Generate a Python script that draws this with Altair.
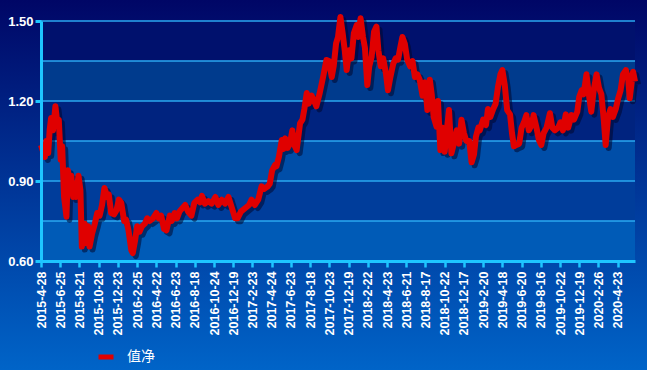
import altair as alt
import pandas as pd

tick_labels = [
    "2015-4-28", "2015-6-25", "2015-8-21", "2015-10-28", "2015-12-23",
    "2016-2-25", "2016-4-22", "2016-6-23", "2016-8-18", "2016-10-24",
    "2016-12-19", "2017-2-23", "2017-4-24", "2017-6-23", "2017-8-18",
    "2017-10-23", "2017-12-19", "2018-2-22", "2018-4-23", "2018-6-21",
    "2018-8-17", "2018-10-22", "2018-12-17", "2019-2-20", "2019-4-18",
    "2019-6-20", "2019-8-16", "2019-10-22", "2019-12-19", "2020-2-26",
    "2020-4-23",
]

# trading-day index (0 = 2015-4-28) and net value
day_index = [
    0, 8, 11, 15, 18, 21, 25, 30, 34, 37, 41, 44, 48, 53, 56, 60, 63, 67, 70, 73,
    78, 82, 85, 91, 94, 98, 101, 106, 112, 117, 122, 127, 132, 138, 141, 146, 152, 157, 162, 167,
    173, 177, 182, 188, 191, 196, 200, 205, 210, 216, 221, 226, 233, 240, 245, 250, 256, 261, 268, 272,
    278, 283, 288, 295, 300, 306, 313, 319, 326, 331, 335, 341, 348, 355, 363, 369, 376, 383, 390, 397,
    404, 409, 416, 424, 433, 438, 445, 452, 459, 464, 472, 476, 481, 487, 490, 495, 501, 504, 508, 513,
    518, 523, 527, 532, 539, 544, 548, 553, 557, 563, 566, 573, 580, 587, 594, 599, 605, 609, 614, 618,
    623, 628, 632, 636, 641, 646, 651, 657, 660, 665, 670, 674, 679, 683, 688, 693, 698, 702, 707, 712,
    718, 722, 727, 733, 738, 743, 748, 752, 757, 762, 768, 773, 778, 783, 788, 794, 799, 804, 809, 813,
    817, 823, 826, 831, 836, 840, 845, 849, 854, 859, 865, 870, 875, 880, 885, 891, 896, 901, 905, 910,
    913, 920, 926, 930, 935, 941, 946, 951, 956, 960, 965, 970, 976, 980, 984, 989, 995, 1000, 1005, 1010,
    1015, 1021, 1025, 1031, 1036, 1041, 1046, 1052, 1059, 1064, 1069, 1076, 1081, 1086, 1092, 1097, 1104, 1109, 1116, 1120,
    1125, 1129, 1135, 1140, 1145, 1150, 1156, 1161, 1166, 1171, 1175, 1180, 1185, 1190, 1196, 1201, 1206, 1211, 1217, 1222,
    1225, 1229, 1232, 1236,
]
nav = [
    1.035, 0.99, 1.05, 1.005, 1.09, 1.136, 1.09, 1.18, 1.117, 1.13, 0.98, 1.03, 0.84, 0.766, 0.94, 0.88, 0.92, 0.84, 0.89, 0.84,
    0.92, 0.866, 0.654, 0.74, 0.667, 0.73, 0.654, 0.70, 0.74, 0.78, 0.77, 0.81, 0.874, 0.84, 0.85, 0.78, 0.775, 0.79, 0.83, 0.818,
    0.75, 0.755, 0.716, 0.64, 0.63, 0.68, 0.73, 0.71, 0.73, 0.74, 0.76, 0.75, 0.76, 0.78, 0.76, 0.77, 0.72, 0.715, 0.77, 0.75,
    0.78, 0.76, 0.785, 0.80, 0.81, 0.785, 0.77, 0.818, 0.83, 0.82, 0.844, 0.815, 0.825, 0.815, 0.84, 0.81, 0.83, 0.815, 0.84, 0.80,
    0.76, 0.76, 0.785, 0.797, 0.81, 0.83, 0.81, 0.83, 0.88, 0.87, 0.88, 0.89, 0.94, 0.96, 0.955, 0.99, 1.054, 1.02, 1.06, 1.024,
    1.04, 1.09, 1.035, 1.016, 1.116, 1.13, 1.17, 1.23, 1.19, 1.22, 1.21, 1.18, 1.23, 1.29, 1.354, 1.35, 1.29, 1.33, 1.416, 1.44,
    1.515, 1.45, 1.39, 1.316, 1.39, 1.36, 1.454, 1.485, 1.44, 1.51, 1.44, 1.40, 1.26, 1.33, 1.366, 1.46, 1.479, 1.39, 1.33, 1.36,
    1.30, 1.24, 1.29, 1.34, 1.36, 1.355, 1.404, 1.44, 1.415, 1.355, 1.33, 1.35, 1.29, 1.30, 1.28, 1.22, 1.27, 1.166, 1.28, 1.225,
    1.14, 1.104, 1.20, 1.016, 1.10, 1.01, 1.10, 1.166, 1.004, 1.04, 1.09, 1.04, 1.13, 1.08, 1.05, 1.05, 0.97, 1.00, 1.066, 1.10,
    1.09, 1.13, 1.11, 1.17, 1.14, 1.17, 1.19, 1.254, 1.30, 1.316, 1.26, 1.166, 1.15, 1.08, 1.03, 1.035, 1.04, 1.10, 1.12, 1.147,
    1.09, 1.11, 1.147, 1.10, 1.054, 1.035, 1.08, 1.10, 1.154, 1.10, 1.09, 1.10, 1.12, 1.09, 1.15, 1.10, 1.147, 1.13, 1.16, 1.216,
    1.24, 1.225, 1.30, 1.225, 1.16, 1.24, 1.30, 1.25, 1.225, 1.13, 1.035, 1.14, 1.17, 1.14, 1.17, 1.21, 1.24, 1.30, 1.316, 1.28,
    1.21, 1.27, 1.31, 1.273,
]
series_name = "值净"

grid_levels = [0.60, 0.75, 0.90, 1.05, 1.20, 1.35, 1.50]
label_levels = [0.60, 0.90, 1.20, 1.50]
tick_values = list(range(0, 1201, 40))

band_colors = ["#005bb7", "#003d9b", "#004ea8", "#00237f", "#003b8d", "#00116d"]

W, H = 594, 240
PAD_L, PAD_T, PAD_R, PAD_B = 41, 21, 12, 109

df = pd.DataFrame({"i": day_index, "v": nav, "s": series_name})
bands = pd.DataFrame({"lo": grid_levels[:-1], "hi": grid_levels[1:], "c": band_colors})
grid = pd.DataFrame({"g": grid_levels})

xs = alt.Scale(domain=[0, 1236], nice=False, zero=False)
ys = alt.Scale(domain=[0.6, 1.5], nice=False, zero=False)

label_expr = "[" + ",".join("'" + t + "'" for t in tick_labels) + "][round(datum.value/40)]"

axis_color = "#1ec6ff"

x_axis = alt.Axis(
    values=tick_values, labelExpr=label_expr, labelAngle=270, title=None,
    labelColor="white", labelFont="Liberation Sans", labelFontWeight="bold",
    labelFontSize=12.5, labelPadding=4, labelOverlap=False, labelFlush=False,
    labelBound=False, tickCount=31,
    domainColor=axis_color, domainWidth=3, tickColor=axis_color, tickWidth=2.5,
    tickSize=6, grid=False, zindex=2,
)
y_axis = alt.Axis(
    values=label_levels, format=".2f", title=None,
    labelColor="white", labelFont="Liberation Sans", labelFontWeight="bold",
    labelFontSize=13, labelPadding=2,
    domainColor=axis_color, domainWidth=3, tickColor=axis_color, tickWidth=3,
    tickSize=6, grid=False, zindex=2,
)

bg = alt.Chart(pd.DataFrame({"a": [0]})).mark_rect(
    color=alt.LinearGradient(
        gradient="linear",
        stops=[alt.GradientStop(color="#000666", offset=0),
               alt.GradientStop(color="#0064c8", offset=1)],
        x1=0, x2=0, y1=0, y2=1,
    )
).encode(
    x=alt.value(-PAD_L), x2=alt.value(W + PAD_R),
    y=alt.value(-PAD_T), y2=alt.value(H + PAD_B),
)

band_layer = alt.Chart(bands).mark_rect().encode(
    x=alt.value(0), x2=alt.value(W),
    y=alt.Y("lo:Q", scale=ys, axis=y_axis),
    y2="hi:Q",
    fill=alt.Fill("c:N", scale=None, legend=None),
)

grid_layer = alt.Chart(grid).mark_rule(color="#2aa9f0", strokeWidth=1.5).encode(
    y=alt.Y("g:Q", scale=ys, axis=y_axis),
)

shadow = alt.Chart(df).mark_line(
    color="#00082e", opacity=0.55, strokeWidth=6, xOffset=3, yOffset=3,
    strokeJoin="round",
).encode(
    x=alt.X("i:Q", scale=xs, axis=x_axis),
    y=alt.Y("v:Q", scale=ys, axis=y_axis),
)

line = alt.Chart(df).mark_line(strokeWidth=6, strokeJoin="round").encode(
    x=alt.X("i:Q", scale=xs, axis=x_axis),
    y=alt.Y("v:Q", scale=ys, axis=y_axis),
    color=alt.Color(
        "s:N",
        scale=alt.Scale(domain=[series_name], range=["#e00000"]),
        legend=alt.Legend(
            title=None, orient="none", legendX=55, legendY=326,
            symbolType="stroke", symbolStrokeWidth=5, symbolSize=225,
            labelColor="white", labelFont="Noto Sans CJK SC", labelFontSize=14,
            labelOffset=11, padding=0, zindex=2,
        ),
    ),
)

chart = alt.layer(bg, band_layer, grid_layer, shadow, line).properties(
    width=W, height=H,
    autosize=alt.AutoSizeParams(type="none"),
    padding={"left": PAD_L, "top": PAD_T, "right": PAD_R, "bottom": PAD_B},
    background="#003a9a",
).configure_view(stroke=None)

chart.save("out.html", embed_options={"renderer": "svg", "actions": False})
